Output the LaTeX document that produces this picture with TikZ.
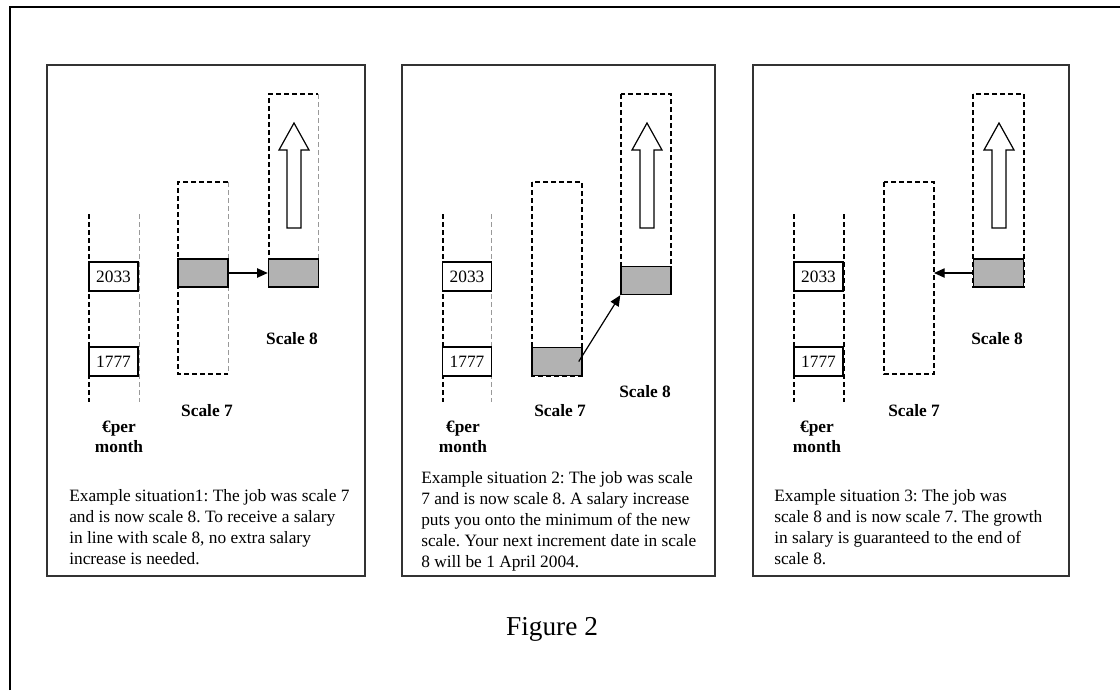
\documentclass[tikz,border=0pt]{standalone}
\usepackage{fontspec}
\setmainfont{Liberation Serif}
\usetikzlibrary{arrows.meta}
\begin{document}
\begin{tikzpicture}[x=0.75pt, y=-0.75pt,
	txt/.style = {font=\fontsize{13}{15.75}\selectfont\frenchspacing, align=left, anchor=north west, inner sep=0pt},
	lbl/.style = {font=\fontsize{13}{15}\selectfont\bfseries, align=center},
	panel/.style = {draw=black!80, line width=1.1pt},
	guide/.style = {dash pattern=on 3.6pt off 2.4pt, line width=1.1pt},
	faint/.style = {dash pattern=on 3.6pt off 2.4pt, draw=black!40, line width=0.5pt},
	valbox/.style = {draw, fill=white, line width=1.1pt, minimum width=36.75pt, minimum height=21.75pt, inner sep=0pt, font=\fontsize{13}{15}\selectfont},
	salbox/.style = {draw, fill=black!30, line width=1.1pt, minimum width=37.5pt, minimum height=21pt, inner sep=0pt},
	jump/.style = {-{Triangle[length=8pt,width=7pt]}, line width=0.9pt},
	uparrow/.style = {draw, fill=white, line width=0.9pt}]
	\useasboundingbox (0,0) rectangle (1120,690);
	\draw [line width=1.5pt] (10,690) -- (10,7) -- (1120,7);
	\draw [panel] (47,65) rectangle (365,576);
	\draw [panel] (402,65) rectangle (715,576);
	\draw [panel] (753,65) rectangle (1069,576);
	% salary columns
	\draw [guide] (89,214) -- (89,402);
	\draw [faint] (139,214) -- (139,402);
	\draw [guide] (443,214) -- (443,402);
	\draw [faint] (491,214) -- (491,402);
	\draw [guide] (794,214) -- (794,402);
	\draw [guide] (844,214) -- (844,402);
	% scale 7
	\draw [guide] (228,182) -- (178,182) -- (178,374) -- (228,374);
	\draw [faint] (228,182) -- (228,374);
	\draw [guide] (532,182) rectangle (582,376);
	\draw [guide] (884,182) rectangle (934,374);
	% scale 8
	\draw [guide] (269,287) -- (269,94) -- (318,94);
	\draw [faint] (318,94) -- (318,287);
	\draw [guide] (621,94) rectangle (671,294);
	\draw [guide] (973,94) rectangle (1024,287);
	\foreach \cx in {294,647,999}
		\draw [uparrow] (\cx,123) -- ++(15,27) -- ++(-8,0) -- ++(0,78) -- ++(-14,0) -- ++(0,-78) -- ++(-8,0) -- cycle;
	% boxes
	\node [valbox] (v33a) at (113.5,276.5) {2033};
	\node [valbox] (v77a) at (113.5,361.5) {1777};
	\node [valbox] (v33b) at (467,276.5) {2033};
	\node [valbox] (v77b) at (467,361.5) {1777};
	\node [valbox] (v33c) at (818.5,276.5) {2033};
	\node [valbox] (v77c) at (818.5,361.5) {1777};
	\node [salbox] (g7a) at (203,273) {};
	\node [salbox] (g8a) at (293.5,273) {};
	\node [salbox] (g7b) at (557,361.5) {};
	\node [salbox] (g8b) at (646,280.5) {};
	\node [salbox] (g8c) at (998.5,273) {};
	\coordinate (edge7c) at (934,273);
	\draw [jump] (g7a) -- (g8a);
	\draw [jump] ([xshift=-3pt]g7b.east) -- (g8b.south west);
	\draw [jump] (g8c) -- (edge7c);
	% labels
	\node [lbl] (l8a) at (292,339) {Scale 8};
	\node [lbl] (l7a) at (207,411) {Scale 7};
	\node [lbl] (eura) at (119,437) {€per\\month};
	\node [lbl] (l8b) at (645,392) {Scale 8};
	\node [lbl] (l7b) at (560,411) {Scale 7};
	\node [lbl] (eurb) at (463,437) {€per\\month};
	\node [lbl] (l8c) at (997,339) {Scale 8};
	\node [lbl] (l7c) at (914,411) {Scale 7};
	\node [lbl] (eurc) at (817,437) {€per\\month};
	\node [txt] (capa) at (69,489) {Example situation1: The job was scale 7\\and is now scale 8. To receive a salary\\in line with scale 8, no extra salary\\increase is needed.};
	\node [txt] (capb) at (421,471) {Example situation 2: The job was scale\\7 and is now scale 8. A salary increase\\puts you onto the minimum of the new\\scale. Your next increment date in scale\\8 will be 1 April 2004.};
	\node [txt] (capc) at (774,489) {Example situation 3: The job was\\scale 8 and is now scale 7. The growth\\in salary is guaranteed to the end of\\scale 8.};
	\node [font=\fontsize{20.5}{24}\selectfont] (fig) at (552,629) {Figure 2};
\end{tikzpicture}
\end{document}
